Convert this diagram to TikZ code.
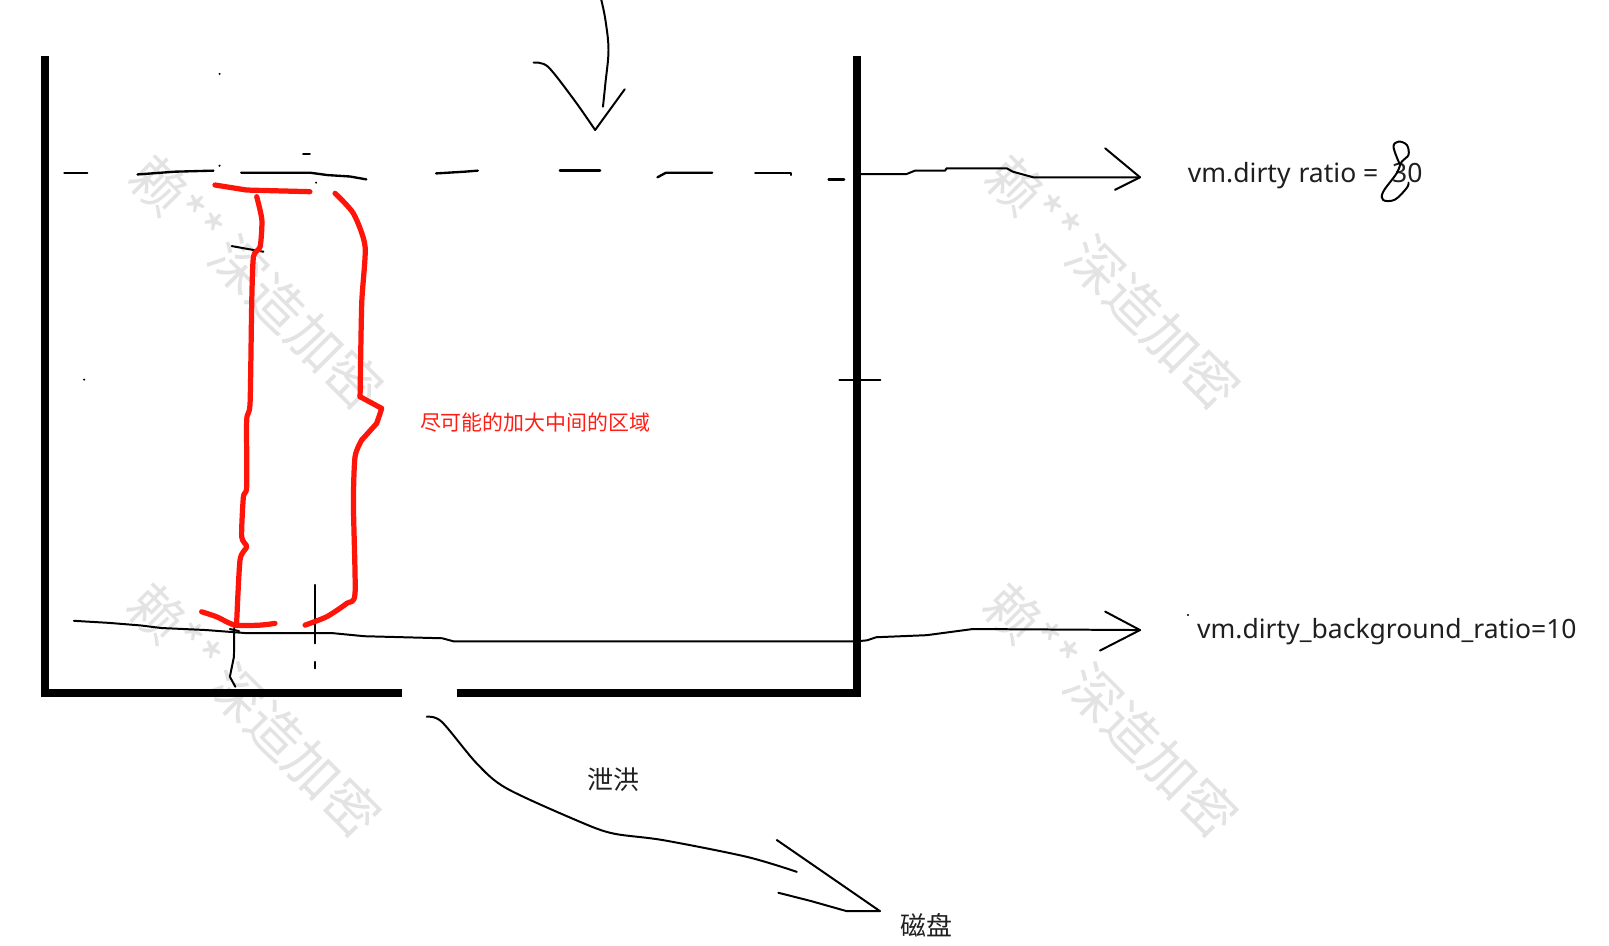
\documentclass[tikz,border=0pt]{standalone}
\usepackage{fontspec}
\setmainfont{Noto Sans}
\newfontfamily\cjk{Noto Sans CJK SC}
\begin{document}
\begin{tikzpicture}[x=0.01cm,y=-0.01cm,
  wall/.style={line width=2.4pt,line join=miter,line cap=butt},
  pen/.style={line width=0.55pt,line join=round,line cap=round},
  redpen/.style={draw={rgb,255:red,255;green,20;blue,10},line width=1.45pt,line join=round,line cap=round},
  wm/.style={text=black!11,font=\cjk\fontsize{15}{15}\selectfont,rotate=-45,inner sep=0pt},
  lbl/.style={text=black!88,font=\fontsize{7.35}{8}\selectfont,inner sep=0pt},
  zh/.style={text=black!88,font=\cjk\fontsize{7.2}{8}\selectfont,inner sep=0pt}]
\useasboundingbox (0,0) rectangle (1568,921);
% watermarks
\node[wm] (wm1) at (250,275) {赖**\,深造加密};
\node[wm] (wm2) at (1085,275) {赖**\,深造加密};
\node[wm] (wm3) at (248,692) {赖**\,深造加密};
\node[wm] (wm4) at (1083,692) {赖**\,深造加密};
% container walls
\draw[wall] (44,55) -- (44,675.5) -- (392,675.5);
\draw[wall] (445,675.5) -- (835,675.5) -- (835,55);
% dashed upper level line (hand drawn)
\draw[pen,line width=0.65pt] (62.7,168.3) -- (85,168.3);
\draw[pen,line width=0.65pt] (134,170) -- (170.7,167.3) -- (208,166.3);
\draw[pen,line width=0.65pt] (235,168.3) -- (302,168.3) -- (319,170.6) -- (341,172) -- (357,174.8);
\draw[pen,line width=0.65pt] (425,169) -- (453,167.3) -- (465.6,166.3);
\draw[pen,line width=0.65pt] (545.6,166.3) -- (584.8,166.3);
\draw[pen,line width=0.65pt] (640.7,172.8) -- (649,168.3) -- (694,168.3);
\draw[pen,line width=0.65pt] (736,168.3) -- (771,168.3) -- (771,170.5);
\draw[pen,line width=0.65pt] (807.5,174.8) -- (822.6,174.8);
% small stray marks
\fill (214,72) circle (1.1);
\fill (214,161.5) circle (1.1);
\fill (308,178) circle (1.1);
\draw[pen] (295.5,150) -- (302,150);
\draw[pen] (225.8,239.8) -- (238,242) -- (256.7,245.3);
\fill (82,370) circle (1.1);
\draw[pen] (818,370) -- (858,370);
\fill (1157.7,599.4) circle (1.1);
% top inflow arrow
\coordinate (inTip) at (580,126.7);
\draw[pen] plot[smooth,tension=0.6] coordinates {(586,0) (590,19.5) (593,48.7) (590,81) (587.6,104)};
\draw[pen] plot[smooth,tension=0.5] coordinates {(520,61) (534,65) (559.6,97.5) (inTip)};
\draw[pen] (608.8,87) -- (inTip);
% arrow to vm.dirty ratio
\coordinate (t1) at (1111,172.8);
\draw[pen] (838,169.6) -- (883.5,169.6) -- (891.7,166.3) -- (921,166.3) -- (922.5,164) -- (981,164) -- (987,167.3) -- (1007,172.8) -- (t1);
\draw[pen] (1077,144.5) -- (t1) -- (1086.6,185);
% lower level line and arrow to vm.dirty_background_ratio
\coordinate (t2) at (1111,614);
\draw[pen] (72,605) -- (106,607) -- (137,609.5) -- (157,612) -- (201,614) -- (240,617) -- (324,617) -- (355,620) -- (431,622) -- (442,625) -- (835,625) -- (845,624) -- (854,621) -- (903,619) -- (948,613) -- (t2);
\draw[pen] (1077,596) -- (t2) -- (1072,634);
% thin vertical marks
\draw[pen] (228.3,610) -- (228,640) -- (224,659.5) -- (229.4,669.3);
\draw[pen] (224,613) -- (233,615);
\draw[pen] (306.7,570) -- (306.7,627);
\draw[pen] (306.7,645) -- (306.7,651.4);
% red bracket
\draw[redpen] (209.5,180.3) -- (240.4,185.2) -- (302,186.8);
\draw[redpen] plot[smooth,tension=0.4] coordinates {(250.2,191.7) (255.2,214.4) (253.5,240.4) (247,250.2) (245.3,295.7) (243.7,393.1) (240.4,409.4) (240.4,474.3) (237.2,484.1) (235.5,523) (240.4,532.8) (233.9,545.8) (230.6,607.5)};
\draw[redpen] plot[smooth,tension=0.4] coordinates {(196.5,596.2) (211,601) (229,609.2) (253.5,609.2) (268,607.5)};
\draw[redpen] plot[smooth,tension=0.4] coordinates {(326.5,188.4) (344.4,208) (355.8,240.4) (352.5,295.7) (350.9,386.6)};
\draw[redpen] (350.9,386.6) -- (372,398) -- (367.1,412.6) -- (352.5,428.8);
\draw[redpen] plot[smooth,tension=0.4] coordinates {(352.5,428.8) (346,445.1) (344.4,490.6) (346,578.3) (337.9,588) (318.4,601) (297.3,609.2)};
% outflow arrow to disk
\coordinate (t3) at (857.5,887.9);
\draw[pen] plot[smooth,tension=0.5] coordinates {(415.9,698.5) (430.5,703.4) (464.6,744) (493.9,768.4) (565.3,800.9) (597.8,812.3) (646.6,818.8) (727.8,835) (776.5,849.6)};
\draw[pen] (757,818.6) -- (t3);
\draw[pen] (758.5,870) -- (790,878) -- (825,887.9) -- (t3);
% labels
\node[lbl,anchor=base west] (r1) at (1157,178) {vm.dirty\hspace{0.3em}ratio =};
\node[lbl,anchor=base west] (r2) at (1356,178) {30};
\draw[pen] plot[smooth,tension=0.6] coordinates {(1363.6,159) (1358,143) (1363,138) (1371,141.3) (1372.6,151) (1366,157.5) (1361,169) (1348,186.8) (1348,195) (1359.5,194.5) (1371,183) (1372.6,178)};
\node[lbl,anchor=base west] (r3) at (1166,622) {vm.dirty\_background\_ratio=10};
\node[text={rgb,255:red,255;green,30;blue,20},font=\cjk\fontsize{5.8}{7}\selectfont,inner sep=0pt] (note) at (521.5,411.8) {尽可能的加大中间的区域};
\node[zh] (flood) at (597.8,760) {泄洪};
\node[zh] (disk) at (902.5,901.5) {磁盘};
\end{tikzpicture}
\end{document}
